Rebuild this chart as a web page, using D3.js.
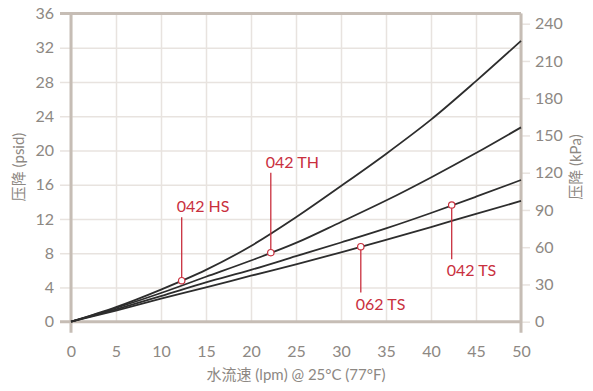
<!DOCTYPE html>
<html>
<head>
<meta charset="utf-8">
<script src="https://cdn.jsdelivr.net/npm/d3@7"></script>
<style>
  body { margin: 0; background: #fff; }
  text { font-family: Lato, "Noto Sans CJK SC", sans-serif; }
  .tick line { stroke: #e8e3df; stroke-width: 1.5px; }
  .tick text { fill: #8d8883; font-size: 16px; }
  .domain { display: none; }
</style>
</head>
<body>
<script>
// ! Data
const flow = [0, 5, 10, 15, 20, 25, 30, 35, 40, 45, 50];
const hs042 = [0, 1.7, 3.75, 6.05, 8.85, 12.2, 15.85, 19.6, 23.6, 28.1, 32.8];
const th042 = [0, 1.6, 3.35, 5.25, 7.15, 9.2, 11.65, 14.15, 16.85, 19.7, 22.7];
const ts042 = [0, 1.45, 3.0, 4.6, 6.05, 7.65, 9.25, 10.9, 12.7, 14.6, 16.55];
const ts062 = [0, 1.3, 2.7, 4.0, 5.37, 6.7, 8.1, 9.55, 11.05, 12.6, 14.1];

const labelNames = ["042 HS", "042 TH", "062 TS", "042 TS"];
const labelFlow = [12.3, 22.2, 32.2, 42.3];
const labelPsi = [4.79, 8.06, 8.76, 13.63];
const labelEnd = [12.2, 17.4, 3.4, 7.3];

const xTicks = [0, 5, 10, 15, 20, 25, 30, 35, 40, 45, 50];
const psiTicks = [0, 4, 8, 12, 16, 20, 24, 28, 32, 36];
const kpaTicks = [0, 30, 60, 90, 120, 150, 180, 210, 240];

const width = 593;
const height = 391;
const PSI_TO_KPA = 6.89476;

const svg = d3
  .select("body")
  .append("svg")
  .attr("width", width)
  .attr("height", height);

const x = d3.scaleLinear().domain([0, 50]).range([71, 521]);
const y = d3.scaleLinear().domain([0, 36]).range([321.7, 13.5]);
const yk = d3
  .scaleLinear()
  .domain([0, 36 * PSI_TO_KPA])
  .range([321.7, 13.5]);

const frameColor = "#c6bdb5";
const red = "#c9303e";

// ! Grid lines
svg
  .append("g")
  .attr("transform", `translate(0, ${y(0)})`)
  .call(d3.axisBottom(x).tickValues(xTicks).tickSize(-(y(0) - y(36))).tickFormat(""));

svg
  .append("g")
  .attr("transform", `translate(${x(0)}, 0)`)
  .call(d3.axisLeft(y).tickValues(psiTicks).tickSize(-(x(50) - x(0))).tickFormat(""));

// ! Axes with labels
svg
  .append("g")
  .attr("transform", `translate(${x(0)}, 0)`)
  .call(d3.axisLeft(y).tickValues(psiTicks).tickSize(11).tickPadding(6));

svg
  .append("g")
  .attr("transform", `translate(${x(50)}, 0)`)
  .call(d3.axisRight(yk).tickValues(kpaTicks).tickSize(9).tickPadding(5));

svg
  .append("g")
  .attr("transform", `translate(0, ${y(0)})`)
  .call(d3.axisBottom(x).tickValues(xTicks).tickSize(0).tickPadding(24));

svg.selectAll(".tick text").attr("fill", "#8d8883");

// ! Frame
const frame = svg.append("g").attr("stroke", frameColor).attr("stroke-width", 3);
frame.append("line").attr("x1", x(0) - 11).attr("x2", x(50)).attr("y1", y(36)).attr("y2", y(36));
frame.append("line").attr("x1", x(0) - 11).attr("x2", x(50)).attr("y1", y(0)).attr("y2", y(0));
frame.append("line").attr("x1", x(0)).attr("x2", x(0)).attr("y1", y(36)).attr("y2", y(0) + 11);
frame.append("line").attr("x1", x(50)).attr("x2", x(50)).attr("y1", y(36)).attr("y2", y(0) + 11);

// ! Curves
const line = d3
  .line()
  .x((d, i) => x(flow[i]))
  .y((d) => y(d))
  .curve(d3.curveMonotoneX);

svg
  .append("g")
  .selectAll("path")
  .data([hs042, th042, ts042, ts062])
  .enter()
  .append("path")
  .attr("d", line)
  .attr("fill", "none")
  .attr("stroke", "#2d2d2d")
  .attr("stroke-width", 1.8);

// ! Annotations
const notes = labelNames.map((name, i) => ({
  name,
  fx: labelFlow[i],
  psi: labelPsi[i],
  end: labelEnd[i],
}));

const note = svg.append("g").selectAll("g").data(notes).enter().append("g");

note
  .append("line")
  .attr("x1", (d) => x(d.fx))
  .attr("x2", (d) => x(d.fx))
  .attr("y1", (d) => y(d.psi))
  .attr("y2", (d) => y(d.end))
  .attr("stroke", red)
  .attr("stroke-width", 1.3);

note
  .append("circle")
  .attr("cx", (d) => x(d.fx))
  .attr("cy", (d) => y(d.psi))
  .attr("r", 3.2)
  .attr("fill", "#fff")
  .attr("stroke", red)
  .attr("stroke-width", 1.2);

note
  .append("text")
  .attr("x", (d) => x(d.fx) - 5)
  .attr("y", (d) => (d.end > d.psi ? y(d.end) - 5 : y(d.end) + 17))
  .attr("fill", red)
  .style("font-size", "16px")
  .text((d) => d.name);

// ! Axis titles
svg
  .append("text")
  .attr("x", (x(0) + x(50)) / 2)
  .attr("y", 380)
  .attr("text-anchor", "middle")
  .attr("fill", "#8d8883")
  .style("font-size", "15px")
  .text("水流速 (lpm) @ 25°C (77°F)");

svg
  .append("text")
  .attr("transform", "translate(24, 167) rotate(-90)")
  .attr("text-anchor", "middle")
  .attr("fill", "#8d8883")
  .style("font-size", "15px")
  .text("压降 (psid)");

svg
  .append("text")
  .attr("transform", "translate(581, 167) rotate(-90)")
  .attr("text-anchor", "middle")
  .attr("fill", "#8d8883")
  .style("font-size", "15px")
  .text("压降 (kPa)");
</script>
</body>
</html>
